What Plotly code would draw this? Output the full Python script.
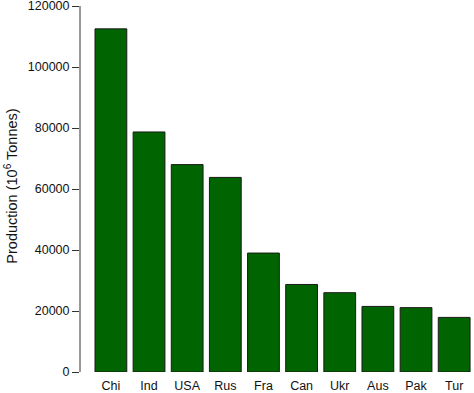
import plotly.graph_objects as go

countries = ["Chi", "Ind", "USA", "Rus", "Fra", "Can", "Ukr", "Aus", "Pak", "Tur"]
production = [112500, 78700, 68000, 63800, 39000, 28700, 26000, 21500, 21100, 17900]
y_ticks = [0, 20000, 40000, 60000, 80000, 100000, 120000]

fig = go.Figure(go.Bar(
    x=countries, y=production,
    marker=dict(color="#006400", line=dict(color="#1a1a1a", width=1)),
))

fig.update_layout(
    width=474, height=393,
    margin=dict(l=80, r=0, t=0, b=21, autoexpand=False),
    plot_bgcolor="white", paper_bgcolor="white",
    bargap=0.1667,
    showlegend=False,
    font=dict(family="Liberation Sans, Arial, sans-serif", size=12.5, color="#111"),
)
fig.update_xaxes(
    range=[-0.81, 9.52], showline=False, showgrid=False, zeroline=False,
    ticks="", tickfont=dict(size=12.5), ticklabelstandoff=4, automargin=False,
    ticklabeloverflow="allow",
)
fig.update_yaxes(
    range=[0, 121967], tickvals=y_ticks, ticktext=[str(v) for v in y_ticks],
    ticklabeloverflow="allow",
    showline=False, linecolor="#333", linewidth=1,
    ticks="outside", ticklen=7, tickcolor="#333",
    showgrid=False, zeroline=False, automargin=False,
    tickfont=dict(size=12.5),
    title=dict(text="Production (10<sup>6</sup> Tonnes)", font=dict(size=14.5), standoff=6),
)
# axis line spanning only 0..120000, like R's axis()
fig.add_shape(type="line", xref="paper", yref="y", x0=0, x1=0, y0=y_ticks[0], y1=y_ticks[-1],
              line=dict(color="#333", width=1))

fig.write_html("out.html", config={"displayModeBar": False},
               post_script="document.body.style.margin='0';document.body.style.padding='0';")
